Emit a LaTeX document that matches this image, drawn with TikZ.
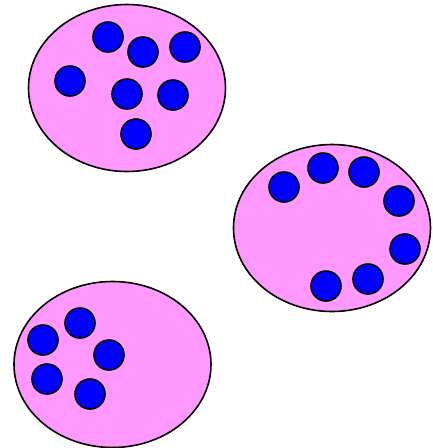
\documentclass[tikz,border=0pt]{standalone}
\begin{document}
\begin{tikzpicture}[x=1pt,y=-1pt,
  blob/.style={draw=black,line width=1.6pt,fill={rgb,255:red,255;green,153;blue,255}},
  dot/.style={circle,draw=black,line width=1.6pt,fill={rgb,255:red,0;green,0;blue,255},minimum size=30pt,inner sep=0pt}]
\useasboundingbox[fill=white] (0,0) rectangle (432,448);
\draw[blob] (127,88) ellipse [x radius=98.5, y radius=83.5];
\draw[blob] (332,228) ellipse [x radius=98.5, y radius=83.5];
\draw[blob] (112.5,364.5) ellipse [x radius=98.5, y radius=83];
% group 1
\node[dot] (a1) at (108,37) {};
\node[dot] (a2) at (143,52) {};
\node[dot] (a3) at (185,47) {};
\node[dot] (a4) at (70,81) {};
\node[dot] (a5) at (127,94) {};
\node[dot] (a6) at (173,95) {};
\node[dot] (a7) at (136,134) {};
% group 2
\node[dot] (b1) at (284,187) {};
\node[dot] (b2) at (323,168) {};
\node[dot] (b3) at (364,172) {};
\node[dot] (b4) at (399,201) {};
\node[dot] (b5) at (405,249) {};
\node[dot] (b6) at (368,279) {};
\node[dot] (b7) at (326,286) {};
% group 3
\node[dot] (c1) at (80,323) {};
\node[dot] (c2) at (43,340) {};
\node[dot] (c3) at (109,355) {};
\node[dot] (c4) at (47,379) {};
\node[dot] (c5) at (90,394) {};
\end{tikzpicture}
\end{document}
